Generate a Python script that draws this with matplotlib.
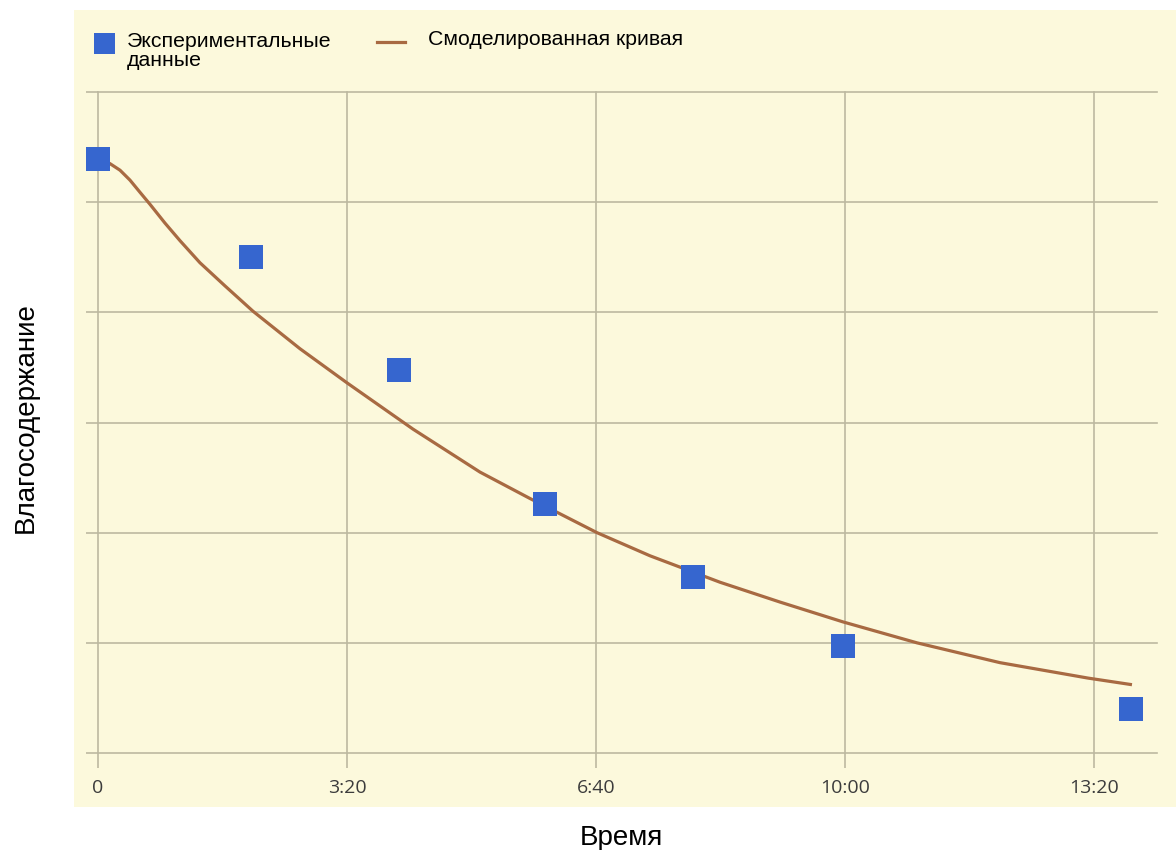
import matplotlib
matplotlib.use("Agg")
import matplotlib.pyplot as plt
from matplotlib.patches import Rectangle
from matplotlib.lines import Line2D

# Experimental measurements (time in seconds, moisture in arbitrary units)
exp_time = [0, 123, 242, 359, 478, 598, 830]
exp_moisture = [5.39, 4.50, 3.48, 2.26, 1.60, 0.97, 0.40]

# Modelled drying curve
model_time = [0, 9.6, 17.7, 25.7, 33.7, 41.8, 53.8, 65.9, 81.9, 102.0, 124.5,
              162.2, 200.0, 253.0, 306.8, 347.0, 400.8, 443.4, 499.6, 547.8,
              598.4, 657.8, 724.5, 795.2, 830.5]
model_moisture = [5.39, 5.35, 5.29, 5.20, 5.09, 4.98, 4.81, 4.65, 4.45, 4.24,
                  4.01, 3.67, 3.36, 2.94, 2.55, 2.31, 2.00, 1.79, 1.55, 1.37,
                  1.19, 1.00, 0.82, 0.68, 0.62]

x_ticks = [0, 200, 400, 600, 800]
x_tick_labels = ["0", "3:20", "6:40", "10:00", "13:20"]
y_ticks = [0, 1, 2, 3, 4, 5, 6]

legend_labels = ["Экспериментальные", "данные", "Смоделированная кривая"]
x_label = "Время"
y_label = "Влагосодержание"

W, H = 1176, 850
CREAM = "#fcf9dc"
GRID = "#bdb9a0"
BLUE = "#3666cf"
BROWN = "#a86a42"

fig = plt.figure(figsize=(W / 100, H / 100), dpi=100, facecolor="white")

def fx(px):
    return px / W

def fy(py):
    return 1 - py / H

# cream panel behind the chart
fig.add_artist(Rectangle((fx(74), fy(807)), fx(1176) - fx(74), fy(10) - fy(807),
                         transform=fig.transFigure, facecolor=CREAM,
                         edgecolor="none", zorder=0))

ax = fig.add_axes([fx(98), fy(753), fx(1157) - fx(98), fy(92) - fy(753)])
ax.set_facecolor("none")
ax.set_xlim(0, 850.6)
ax.set_ylim(0, 6)
for s in ax.spines.values():
    s.set_visible(False)

ax.set_xticks(x_ticks)
ax.set_xticklabels(x_tick_labels, fontfamily="Open Sans", fontsize=14,
                   color="#3c3c3c")
ax.set_yticks(y_ticks)
ax.set_yticklabels([])
ax.tick_params(axis="x", direction="out", length=11, width=1.2, color=GRID, pad=8)
ax.tick_params(axis="y", direction="out", length=8.6, width=1.2, color=GRID)
ax.grid(True, color=GRID, linewidth=1.2)
ax.set_axisbelow(True)
for gl in ax.get_xgridlines() + ax.get_ygridlines():
    gl.set_clip_on(False)

ax.plot(model_time, model_moisture, color=BROWN, linewidth=2.3,
        solid_joinstyle="round", solid_capstyle="butt", zorder=3, clip_on=False)
ax.plot(exp_time, exp_moisture, linestyle="none", marker="s", markersize=16.6,
        markerfacecolor=BLUE, markeredgewidth=0, zorder=4, clip_on=False)

# legend
fig.add_artist(Rectangle((fx(93.5), fy(53.5)), fx(21), fy(0) - fy(21),
                         transform=fig.transFigure, facecolor=BLUE,
                         edgecolor="none"))
fig.text(fx(127), fy(47), legend_labels[0], fontfamily="Liberation Sans",
         fontsize=15.3, color="black", va="baseline", ha="left")
fig.text(fx(127), fy(66), legend_labels[1], fontfamily="Liberation Sans",
         fontsize=15.3, color="black", va="baseline", ha="left")
fig.add_artist(Line2D([fx(377), fx(405)], [fy(42), fy(42)],
                      transform=fig.transFigure, color=BROWN, linewidth=2.3))
fig.text(fx(428), fy(45), legend_labels[2], fontfamily="Liberation Sans",
         fontsize=15.3, color="black", va="baseline", ha="left")

# axis titles
fig.text(fx(621), fy(845), x_label, fontfamily="Liberation Sans", fontsize=20,
         color="black", ha="center", va="baseline")
fig.text(fx(33), fy(418), y_label, fontfamily="Liberation Sans", fontsize=20,
         color="black", ha="center", va="baseline", rotation=90,
         rotation_mode="anchor")

fig.savefig("out.png", dpi=100, facecolor="white")
